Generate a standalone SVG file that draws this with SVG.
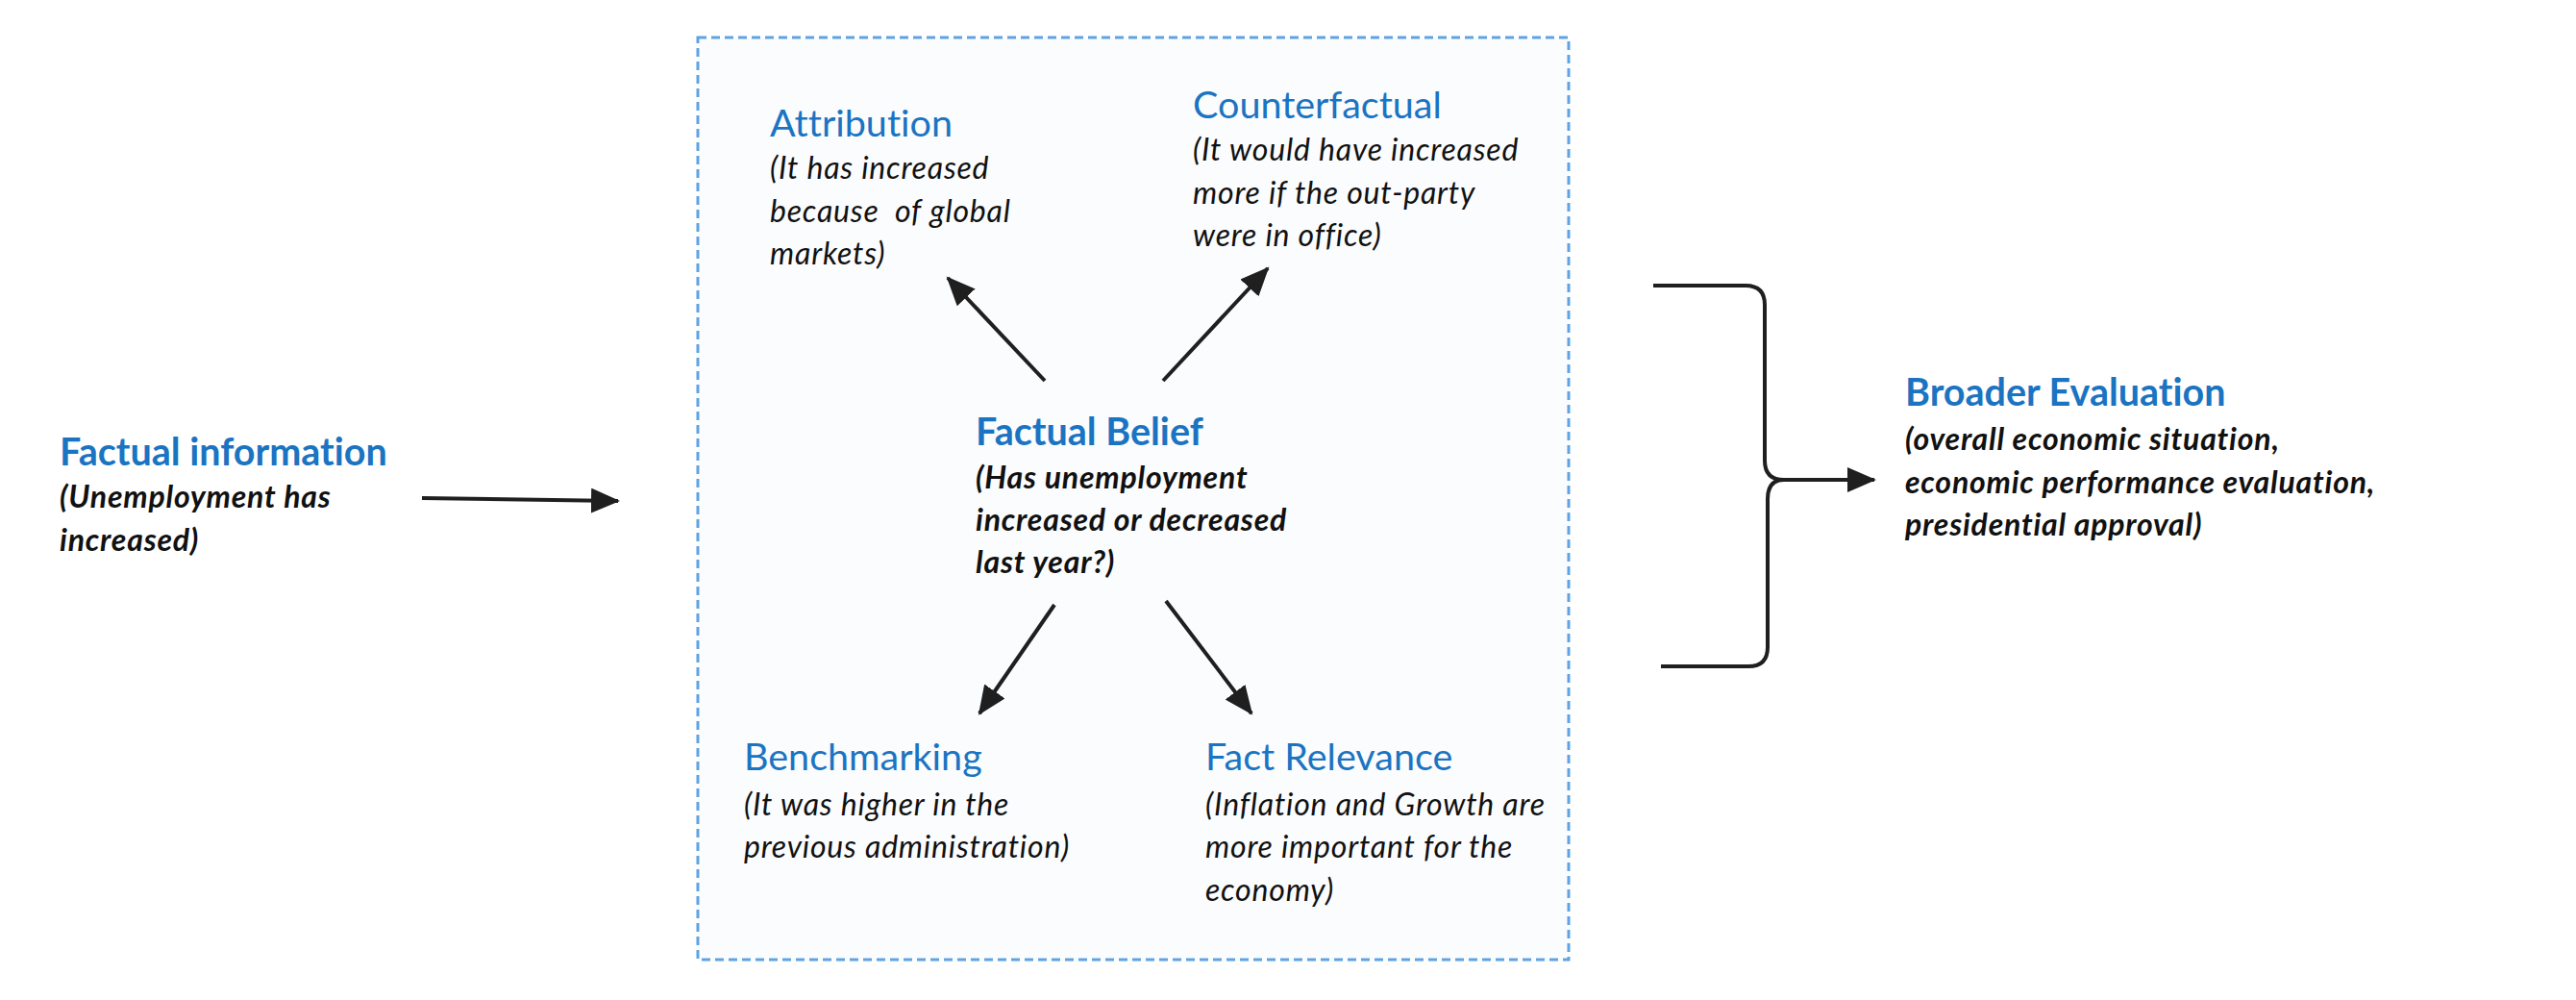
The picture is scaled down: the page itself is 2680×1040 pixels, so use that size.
<svg xmlns="http://www.w3.org/2000/svg" width="2680" height="1040" viewBox="0 0 2680 1040">
<defs>
<style>
.t{font-family:Lato,"Liberation Sans",sans-serif;fill:#1b74c2;font-size:39.5px;font-variant-ligatures:none}
.tb{font-weight:700}
.s{font-family:Lato,"Liberation Sans",sans-serif;fill:#111;font-size:32px;font-style:italic;letter-spacing:0.8px;font-variant-ligatures:none}
.sb{font-weight:700}
.c{stroke:#1f1f1f;stroke-width:4;fill:none}
</style>
<marker id="ah" markerUnits="userSpaceOnUse" markerWidth="32" markerHeight="28" refX="28" refY="13" orient="auto">
<path d="M0,0 L30,13 L0,26 z" fill="#1f1f1f"/>
</marker>
</defs>
<rect width="2680" height="1040" fill="#fff"/>
<g id="frame">
<rect x="726" y="39" width="906" height="959" fill="#fbfcfe" stroke="#5ea3e4" stroke-width="3" stroke-dasharray="9 5"/>
</g>
<g id="connectors">
<path class="c" d="M439,518 L643,521" marker-end="url(#ah)"/>
<path class="c" d="M1087,396 L986,289" marker-end="url(#ah)"/>
<path class="c" d="M1210,396 L1319,279" marker-end="url(#ah)"/>
<path class="c" d="M1097,629 L1019,742" marker-end="url(#ah)"/>
<path class="c" d="M1213,625 L1302,742" marker-end="url(#ah)"/>
<path class="c" d="M1720,297 H1816 Q1836,297 1836,317 V479 Q1836,499 1856,499 H1950" marker-end="url(#ah)"/>
<path class="c" d="M1728,693 H1819 Q1839,693 1839,673 V519 Q1839,499 1856,499"/>
</g>
<g id="factual-information">
<text class="t tb" x="62" y="484">Factual information</text>
<text class="s sb" x="62" y="528">(Unemployment has</text>
<text class="s sb" x="62" y="573">increased)</text>
</g>
<g id="attribution">
<text class="t" x="801" y="142">Attribution</text>
<text class="s" x="801" y="186">(It has increased</text>
<text class="s" x="801" y="231" style="white-space:pre">because  of global</text>
<text class="s" x="801" y="275">markets)</text>
</g>
<g id="counterfactual">
<text class="t" x="1241" y="123">Counterfactual</text>
<text class="s" x="1241" y="167">(It would have increased</text>
<text class="s" x="1241" y="212">more if the out-party</text>
<text class="s" x="1241" y="256">were in office)</text>
</g>
<g id="factual-belief">
<text class="t tb" x="1015" y="463">Factual Belief</text>
<text class="s sb" x="1015" y="508">(Has unemployment</text>
<text class="s sb" x="1015" y="552">increased or decreased</text>
<text class="s sb" x="1015" y="596">last year?)</text>
</g>
<g id="benchmarking">
<text class="t" x="774" y="801">Benchmarking</text>
<text class="s" x="774" y="848">(It was higher in the</text>
<text class="s" x="774" y="892">previous administration)</text>
</g>
<g id="fact-relevance">
<text class="t" x="1254" y="801">Fact Relevance</text>
<text class="s" x="1254" y="848">(Inflation and Growth are</text>
<text class="s" x="1254" y="892">more important for the</text>
<text class="s" x="1254" y="937">economy)</text>
</g>
<g id="broader-evaluation">
<text class="t tb" x="1982" y="422">Broader Evaluation</text>
<text class="s sb" x="1982" y="468">(overall economic situation,</text>
<text class="s sb" x="1982" y="513">economic performance evaluation,</text>
<text class="s sb" x="1982" y="557">presidential approval)</text>
</g>
</svg>
